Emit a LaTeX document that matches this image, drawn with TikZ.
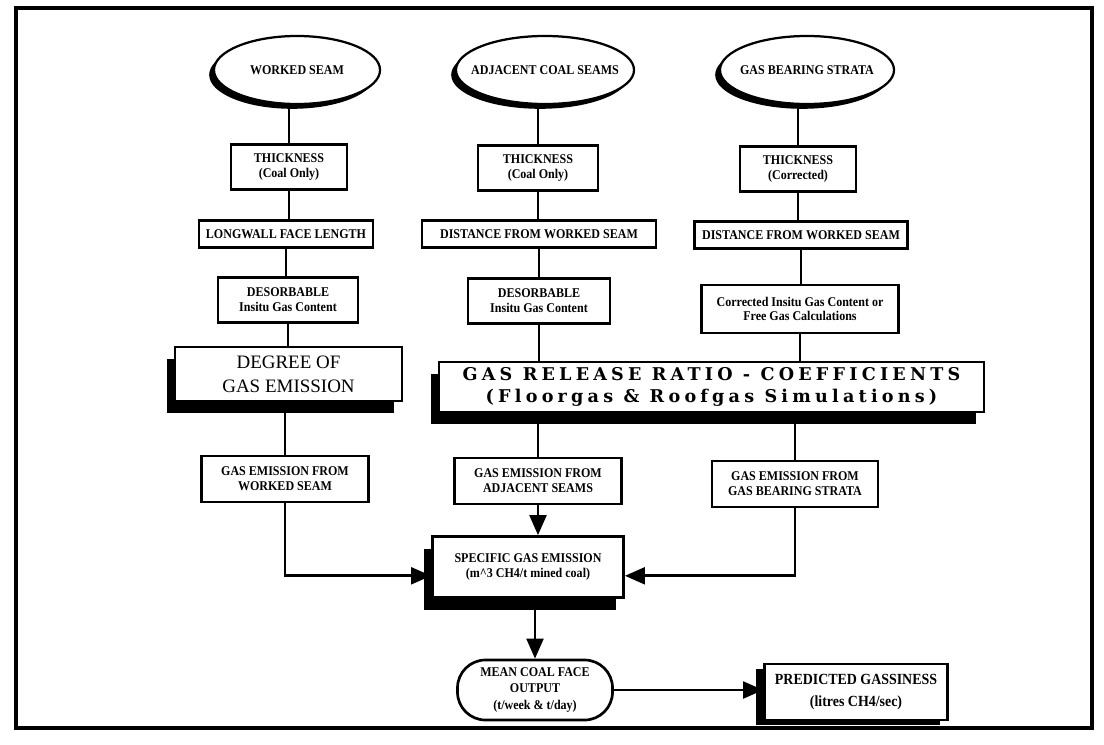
\documentclass[tikz,border=0pt]{standalone}
\usepackage{fontspec}
\setmainfont{Liberation Serif}
\newfontfamily\narrowfont[FakeStretch=0.9]{Liberation Serif}
\newfontfamily\widefont[LetterSpace=24]{DejaVu Serif}
\usetikzlibrary{shapes.geometric,shadows,arrows.meta}

\begin{document}
\begin{tikzpicture}[x=0.025cm,y=-0.025cm,
	box/.style={draw,line width=1.9pt,fill=white,align=center,inner sep=0pt,
		font=\narrowfont\bfseries\fontsize{9.5}{10.5}\selectfont},
	seam/.style={box,ellipse,line width=1.6pt,minimum height=1.7cm,inner xsep=-0.3cm,
		drop shadow={shadow xshift=-0.12cm,shadow yshift=-0.12cm,fill=black,opacity=1}},
	heavy/.style={box,drop shadow={shadow xshift=-0.2cm,shadow yshift=-0.3cm,fill=black,opacity=1}},
	link/.style={line width=1.9pt},
	arr/.style={link,-{Triangle[length=0.5cm,width=0.42cm]}}]
	\useasboundingbox (0,0) rectangle (1104,744);
	\draw[line width=2.4pt] (16,8) rectangle (1092,728);

	% sources
	\node[seam,minimum width=4.15cm] (seamW) at (297,70) {WORKED SEAM};
	\node[seam,minimum width=4.45cm] (seamA) at (545,70) {ADJACENT COAL SEAMS};
	\node[seam,minimum width=4.35cm] (seamG) at (807,70) {GAS BEARING STRATA};

	% worked seam column
	\node[box,minimum width=2.9cm,minimum height=1.125cm] (thickW) at (289,167) {THICKNESS\\(Coal Only)};
	\node[box,minimum width=4.35cm,minimum height=0.675cm] (lengthW) at (286,234) {LONGWALL FACE LENGTH};
	\node[box,minimum width=3.5cm,minimum height=1.125cm] (desorbW) at (288,300) {DESORBABLE\\Insitu Gas Content};
	\node[heavy,minimum width=5.675cm,minimum height=1.35cm,font=\fontsize{13.5}{17}\selectfont] (degree) at (288.5,374) {DEGREE OF\\GAS EMISSION};
	\node[box,minimum width=4.175cm,minimum height=1.15cm] (emisW) at (285,479) {GAS EMISSION FROM\\WORKED SEAM};

	% adjacent seams column
	\node[box,minimum width=3cm,minimum height=1.125cm] (thickA) at (538,168) {THICKNESS\\(Coal Only)};
	\node[box,minimum width=5.85cm,minimum height=0.675cm] (distA) at (539,234) {DISTANCE FROM WORKED SEAM};
	\node[box,minimum width=3.55cm,minimum height=1.125cm] (desorbA) at (539,301) {DESORBABLE\\Insitu Gas Content};
	\node[box,minimum width=4.175cm,minimum height=1.15cm] (emisA) at (538,481) {GAS EMISSION FROM\\ADJACENT SEAMS};

	% strata column
	\node[box,minimum width=2.9cm,minimum height=1.125cm] (thickG) at (798,169) {THICKNESS\\(Corrected)};
	\node[box,minimum width=5.325cm,minimum height=0.675cm] (distG) at (801,235) {DISTANCE FROM WORKED SEAM};
	\node[box,minimum width=4.925cm,minimum height=1.2cm] (freeG) at (800,309) {Corrected Insitu Gas Content or\\Free Gas Calculations};
	\node[box,minimum width=4.15cm,minimum height=1.15cm] (emisG) at (795,484) {GAS EMISSION FROM\\GAS BEARING STRATA};

	\node[heavy,minimum width=13.625cm,minimum height=1.25cm,font=\widefont\bfseries\fontsize{12.5}{16}\selectfont] (release) at (711.5,387)
		{GAS RELEASE RATIO - COEFFICIENTS\\(Floorgas \& Roofgas Simulations)};

	% results
	\node[heavy,minimum width=4.775cm,minimum height=1.525cm] (specific) at (528,567) {SPECIFIC GAS EMISSION\\(m\textasciicircum3 CH4/t mined coal)};
	\node[box,rounded corners=0.7cm,minimum width=3.875cm,minimum height=1.5cm,
		font=\narrowfont\bfseries\fontsize{9.5}{11.5}\selectfont] (output) at (535,690) {MEAN COAL FACE\\OUTPUT\\(t/week \& t/day)};
	\node[box,minimum width=4.575cm,minimum height=1.4cm,font=\narrowfont\bfseries\fontsize{11}{15}\selectfont,
		drop shadow={shadow xshift=-0.2cm,shadow yshift=-0.12cm,fill=black,opacity=1}] (gassiness) at (856,692)
		{PREDICTED GASSINESS\\(litres CH4/sec)};

	% connections
	\draw[link] (thickW.north |- seamW.south) -- (thickW.north);
	\draw[link] (thickA.north |- seamA.south) -- (thickA.north);
	\draw[link] (thickG.north |- seamG.south) -- (thickG.north);
	\draw[link] (thickW.south) -- (thickW.south |- lengthW.north);
	\draw[link] (thickA.south) -- (thickA.south |- distA.north);
	\draw[link] (thickG.south) -- (thickG.south |- distG.north);
	\draw[link] (lengthW.south) -- (lengthW.south |- desorbW.north);
	\draw[link] (distA.south) -- (distA.south |- desorbA.north);
	\draw[link] (distG.south) -- (distG.south |- freeG.north);
	\draw[link] (desorbW.south) -- (desorbW.south |- degree.north);
	\draw[link] (desorbA.south) -- (desorbA.south |- release.north);
	\draw[link] (freeG.south) -- (freeG.south |- release.north);
	\draw[link] (emisW.north |- degree.south) -- (emisW.north);
	\draw[link] (emisA.north |- release.south) -- (emisA.north);
	\draw[link] (emisG.north |- release.south) -- (emisG.north);
	\draw[arr] (emisW.south) |- ([yshift=-0.22cm]specific.west);
	\draw[arr] (emisG.south) |- ([yshift=-0.22cm]specific.east);
	\draw[arr] (emisA.south) -- (emisA.south |- specific.north);
	\draw[arr] (output.north |- specific.south) -- (output.north);
	\draw[arr] (output.east) -- (output.east -| gassiness.west);
\end{tikzpicture}
\end{document}
